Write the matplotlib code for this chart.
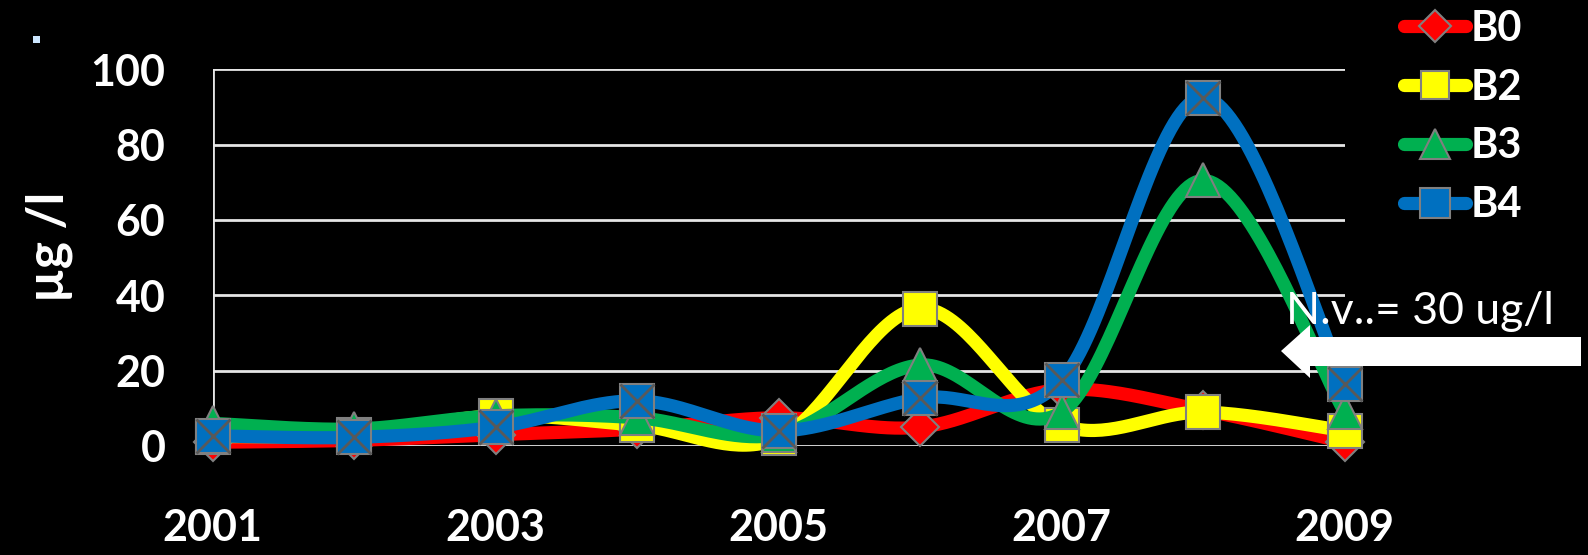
import matplotlib
matplotlib.use('Agg')
import matplotlib.pyplot as plt
from matplotlib.patches import Polygon, Rectangle
import numpy as np

plt.rcParams['font.family'] = ['Lato', 'DejaVu Sans']

years = [2001, 2002, 2003, 2004, 2005, 2006, 2007, 2008, 2009]
tick_years = [2001, 2003, 2005, 2007, 2009]
b0 = [1.0, 1.5, 3.0, 4.5, 7.5, 5.0, 15.0, 9.5, 1.0]
b2 = [2.5, 3.0, 8.0, 5.5, 2.0, 36.5, 5.5, 9.0, 4.0]
b3 = [6.0, 4.5, 8.0, 7.5, 3.0, 21.5, 9.0, 70.5, 9.0]
b4 = [2.7, 2.3, 5.0, 12.0, 4.0, 12.7, 17.5, 92.5, 16.5]
labels = ['B0', 'B2', 'B3', 'B4']
yticks = [0, 20, 40, 60, 80, 100]


def smooth(x, y, n=40):
    # excel-like smoothed line (catmull-rom bezier)
    x = np.asarray(x, float)
    y = np.asarray(y, float)
    px = np.concatenate([[x[0]], x, [x[-1]]])
    py = np.concatenate([[y[0]], y, [y[-1]]])
    xs, ys = [], []
    t = np.linspace(0, 1, n)
    for i in range(1, len(px) - 2):
        p0 = np.array([px[i], py[i]])
        p3 = np.array([px[i + 1], py[i + 1]])
        c1 = p0 + (p3 - np.array([px[i - 1], py[i - 1]])) / 6
        c2 = p3 - (np.array([px[i + 2], py[i + 2]]) - p0) / 6
        pts = ((1 - t) ** 3)[:, None] * p0 + (3 * (1 - t) ** 2 * t)[:, None] * c1 \
            + (3 * (1 - t) * t ** 2)[:, None] * c2 + (t ** 3)[:, None] * p3
        xs.extend(pts[:, 0])
        ys.extend(pts[:, 1])
    return np.array(xs), np.array(ys)


fig = plt.figure(figsize=(15.88, 5.55), dpi=100, facecolor='black')
ax = fig.add_axes([0.1339, 0.1964, 0.8468 - 0.1339, 0.8751 - 0.1964])
ax.set_facecolor('black')

for v in yticks:
    ax.axhline(v, color='#e6e6e6', lw=2, zorder=1)
ax.axvline(years[0], ymin=0, ymax=1, color='#e6e6e6', lw=2, zorder=1)

edge = '#808080'
series = [
    (b0, '#ff0000', 'D', 19),
    (b2, '#ffff00', 's', 24),
    (b3, '#00b050', '^', 25),
    (b4, '#0070c0', 's', 25),
]
handles = []
for (vals, col, mk, ms), lab in zip(series, labels):
    sx, sy = smooth(years, vals)
    ax.plot(sx, sy, color=col, lw=9.5, solid_capstyle='round', zorder=3, clip_on=False)
    ax.plot(years, vals, ls='none', marker=mk, ms=ms, mfc=col, mec=edge, mew=1.5,
            zorder=3, clip_on=False)
    if lab == 'B4':
        ax.plot(years, vals, ls='none', marker='x', ms=ms * 0.98, mec='#595959', mew=2,
                zorder=3, clip_on=False)
    h, = ax.plot([], [], color=col, lw=9.5, solid_capstyle='round', marker=mk, ms=ms * 0.85,
                 mfc=col, mec=edge, mew=1.5, label=lab)
    handles.append(h)

ax.set_xlim(years[0], years[-1])
ax.set_ylim(0, 100)
ax.set_xticks(tick_years)
ax.set_xticklabels([str(y) for y in tick_years])
ax.set_yticks(yticks)
ax.tick_params(axis='both', length=0, colors='white', labelsize=31)
ax.tick_params(axis='x', pad=45)
ax.tick_params(axis='y', pad=34)
for t in ax.get_xticklabels() + ax.get_yticklabels():
    t.set_fontweight('bold')
for s in ax.spines.values():
    s.set_visible(False)

fig.text(0.031, 0.556, 'µg /l', rotation=90, color='white', fontsize=37,
         fontweight='bold', ha='center', va='center')

leg = ax.legend(handles=handles, loc='upper left', bbox_to_anchor=(0.871, 1.02),
                bbox_transform=fig.transFigure, frameon=False, fontsize=30,
                handlelength=1.5, handletextpad=0.1, labelspacing=0.5, borderpad=0)
for t in leg.get_texts():
    t.set_color('white')
    t.set_fontweight('bold')

fig.text(1420 / 1588, 1 - 312 / 555, 'N.v..= 30 ug/l', color='white', fontsize=32,
         ha='center', va='center')

W, H = 1588, 555
arrow_px = [(1281, 351), (1310, 325), (1310, 337), (1581, 337), (1581, 366),
            (1310, 366), (1310, 378)]
fig.patches.append(Polygon([(x / W, 1 - y / H) for x, y in arrow_px], closed=True,
                           facecolor='white', edgecolor='none', transform=fig.transFigure))
fig.patches.append(Rectangle((33 / W, 1 - 43 / H), 7 / W, 7 / H, facecolor='#cce6ff',
                             edgecolor='none', transform=fig.transFigure))

fig.savefig('out.png', dpi=100, facecolor='black')
